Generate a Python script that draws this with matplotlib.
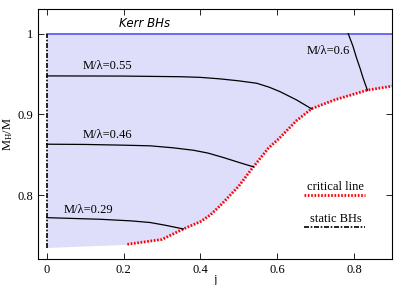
import matplotlib
matplotlib.use("Agg")
import matplotlib.pyplot as plt

# critical line
crit_j = [0.21, 0.30, 0.356, 0.40, 0.425, 0.45, 0.50, 0.53, 0.577, 0.605, 0.65, 0.69, 0.75, 0.835, 0.90]
crit_m = [0.739, 0.745, 0.758, 0.767, 0.775, 0.786, 0.811, 0.830, 0.858, 0.870, 0.892, 0.907, 0.918, 0.930, 0.935]

# lower edge of the shaded domain before the critical line starts
edge_j = [0.0, 0.21]
edge_m = [0.735, 0.739]

# lines of constant M/lambda
l055_j = [0.0, 0.2, 0.35, 0.40, 0.45, 0.50, 0.547, 0.58, 0.608, 0.65, 0.69]
l055_m = [0.9476, 0.9474, 0.9466, 0.9458, 0.944, 0.9415, 0.9385, 0.9335, 0.928, 0.918, 0.9067]
l046_j = [0.0, 0.1, 0.2, 0.269, 0.33, 0.382, 0.42, 0.46, 0.50, 0.538]
l046_m = [0.863, 0.8627, 0.8618, 0.861, 0.8585, 0.8555, 0.852, 0.8465, 0.8405, 0.835]
l029_j = [0.0, 0.139, 0.22, 0.269, 0.31, 0.356]
l029_m = [0.772, 0.770, 0.768, 0.766, 0.7625, 0.758]
l06_j = [0.785, 0.797, 0.807, 0.816, 0.824, 0.835]
l06_m = [1.0, 0.985, 0.9695, 0.957, 0.9447, 0.930]

static_m = [0.735, 1.0]

plt.rcParams["font.family"] = ["Liberation Serif", "DejaVu Serif"]
plt.rcParams["mathtext.fontset"] = "custom"
plt.rcParams["mathtext.rm"] = "Liberation Serif"
plt.rcParams["mathtext.it"] = "Liberation Serif:italic"

fig = plt.figure(figsize=(4.07, 2.85), dpi=100)
ax = fig.add_axes([0.094, 0.091, 0.870, 0.876])

# shaded domain
low_j = edge_j + crit_j[1:]
low_m = edge_m + crit_m[1:]
ax.fill_between(low_j, low_m, 1.0, color="#dedefa", lw=0)

ax.plot([0.0, 0.9], [1.0, 1.0], color="#6a6af0", lw=1.4)
ax.plot(crit_j, crit_m, color="red", lw=2.0, ls=(0, (0.6, 0.6)))
for jj, mm in [(l055_j, l055_m), (l046_j, l046_m), (l029_j, l029_m), (l06_j, l06_m)]:
    ax.plot(jj, mm, color="black", lw=0.9)
ax.plot([0.0, 0.0], static_m, color="black", lw=1.2, ls=(0, (3, 1, 1, 1)))

fs = 9
ax.text(0.256, 1.013, "Kerr BHs", family="DejaVu Sans", style="italic", fontsize=8.5, ha="center", va="center")
ax.text(0.157, 0.960, "M/\u03bb=0.55", fontsize=fs, ha="center", va="center")
ax.text(0.157, 0.875, "M/\u03bb=0.46", fontsize=fs, ha="center", va="center")
ax.text(0.108, 0.781, "M/\u03bb=0.29", fontsize=fs, ha="center", va="center")
ax.text(0.733, 0.978, "M/\u03bb=0.6", fontsize=fs, ha="center", va="center")

# legend drawn by hand
ax.text(0.753, 0.810, "critical line", fontsize=fs, ha="center", va="center")
ax.plot([0.67, 0.83], [0.8, 0.8], color="red", lw=2.0, ls=(0, (0.6, 0.6)))
ax.text(0.753, 0.770, "static BHs", fontsize=fs, ha="center", va="center")
ax.plot([0.67, 0.83], [0.7605, 0.7605], color="black", lw=1.2, ls=(0, (3, 1, 1, 1)))

ax.set_xlim(-0.022, 0.9)
ax.set_ylim(0.7207, 1.030)
ax.set_xticks([0, 0.2, 0.4, 0.6, 0.8])
ax.set_xticklabels(["0", "0.2", "0.4", "0.6", "0.8"])
ax.set_yticks([0.8, 0.9, 1.0])
ax.set_yticklabels(["0.8", "0.9", "1"])
ax.tick_params(direction="in", top=True, right=True, labelsize=fs, length=4, width=0.6)
for s in ax.spines.values():
    s.set_linewidth(0.8)
ax.set_xlabel("j", fontsize=fs, labelpad=-1.5)
ax.set_ylabel(r"M$_{\rm H}$/M", fontsize=fs, labelpad=2)

fig.savefig("out.png", dpi=100)
